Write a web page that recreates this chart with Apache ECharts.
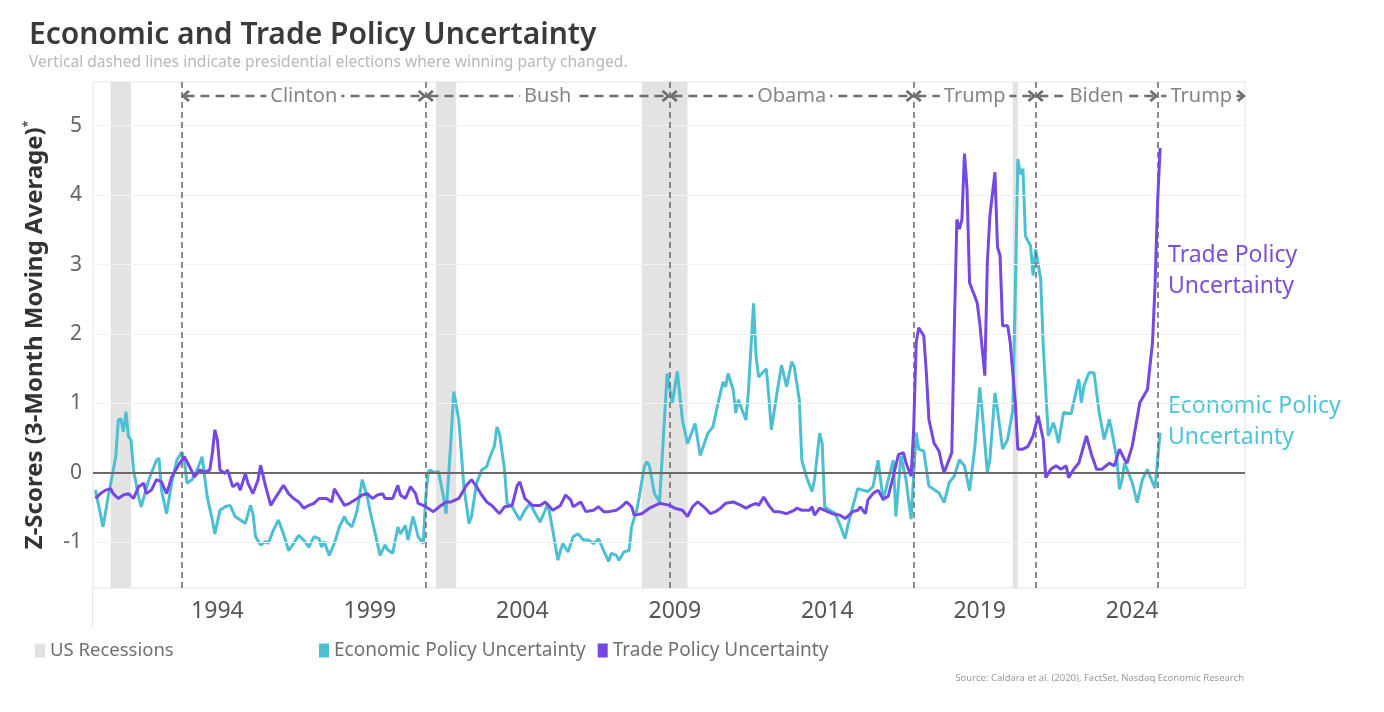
<!DOCTYPE html>
<html>
<head>
<meta charset="utf-8">
<script src="https://cdn.jsdelivr.net/npm/echarts@6.0.0/dist/echarts.min.js"></script>
<style>
html,body{margin:0;padding:0;background:#fff;}
#chart{width:1384px;height:712px;}
</style>
</head>
<body>
<div id="chart"></div>
<script>
// ---------- DATA ----------
const xTickYears = [1994, 1999, 2004, 2009, 2014, 2019, 2024];
const yTickValues = [-1, 0, 1, 2, 3, 4, 5];

const recessions = [['1990-07','1991-03'], ['2001-03','2001-11'], ['2007-12','2009-06'], ['2020-02','2020-04']];
const elections = ['1992-11', '2000-11', '2008-11', '2016-11', '2020-11', '2024-11'];
const presidents = ['Clinton', 'Bush', 'Obama', 'Trump', 'Biden', 'Trump'];

const epuData = [
['1990-01',-0.25],['1990-04',-0.78],['1990-06',-0.35],['1990-09',0.23],['1990-10',0.76],['1990-11',0.78],['1990-12',0.59],
['1991-01',0.88],['1991-02',0.52],['1991-03',0.47],['1991-04',0.04],['1991-06',-0.35],['1991-07',-0.49],['1991-10',-0.10],
['1992-01',0.18],['1992-02',0.21],['1992-03',-0.25],['1992-05',-0.59],['1992-07',-0.15],['1992-09',0.18],['1992-11',0.30],['1992-12',0.18],
['1993-01',-0.15],['1993-03',-0.10],['1993-05',0.04],['1993-07',0.23],['1993-09',-0.35],['1993-11',-0.68],['1993-12',-0.88],
['1994-02',-0.54],['1994-04',-0.49],['1994-06',-0.47],['1994-08',-0.63],['1994-10',-0.68],['1994-12',-0.73],
['1995-02',-0.47],['1995-03',-0.59],['1995-04',-0.92],['1995-06',-1.04],['1995-08',-0.99],['1995-09',-1.02],['1995-11',-0.83],
['1996-01',-0.68],['1996-03',-0.88],['1996-05',-1.12],['1996-07',-1.02],['1996-09',-0.90],['1996-11',-0.97],
['1997-01',-1.07],['1997-03',-0.92],['1997-05',-0.95],['1997-06',-1.07],['1997-07',-0.99],['1997-09',-1.19],['1997-11',-1.02],
['1998-01',-0.78],['1998-03',-0.63],['1998-04',-0.71],['1998-06',-0.78],['1998-08',-0.54],['1998-10',-0.10],['1998-12',-0.35],
['1999-01',-0.54],['1999-04',-1.02],['1999-05',-1.19],['1999-07',-1.04],['1999-08',-1.11],['1999-10',-1.16],['1999-12',-0.78],
['2000-01',-0.88],['2000-03',-0.76],['2000-04',-0.97],['2000-06',-0.63],['2000-08',-0.92],['2000-10',-1.02],['2000-11',-0.35],['2000-12',0.02],
['2001-01',0.04],['2001-02',0.00],['2001-04',0.02],['2001-06',-0.35],['2001-07',-0.59],['2001-09',0.52],['2001-10',1.17],['2001-12',0.76],
['2002-02',-0.20],['2002-04',-0.73],['2002-05',-0.63],['2002-07',-0.15],['2002-09',0.04],['2002-11',0.09],['2002-12',0.20],
['2003-01',0.30],['2003-02',0.38],['2003-03',0.66],['2003-04',0.57],['2003-06',0.04],['2003-07',-0.44],['2003-09',-0.49],['2003-12',-0.68],
['2004-02',-0.54],['2004-04',-0.44],['2004-06',-0.58],['2004-08',-0.71],['2004-10',-0.54],['2004-11',-0.44],
['2005-01',-0.83],['2005-03',-1.26],['2005-04',-1.12],['2005-05',-1.02],['2005-07',-1.14],['2005-09',-0.92],['2005-11',-0.88],
['2006-01',-0.97],['2006-03',-0.97],['2006-05',-1.02],['2006-07',-0.95],['2006-09',-1.12],['2006-11',-1.28],['2006-12',-1.16],
['2007-02',-1.19],['2007-03',-1.26],['2007-05',-1.14],['2007-07',-1.12],['2007-08',-0.78],['2007-10',-0.54],['2007-11',-0.35],
['2008-01',0.09],['2008-02',0.16],['2008-03',0.10],['2008-05',-0.30],['2008-07',-0.42],['2008-10',1.43],['2008-12',1.00],
['2009-02',1.46],['2009-04',0.76],['2009-06',0.42],['2009-09',0.71],['2009-11',0.25],
['2010-02',0.57],['2010-04',0.66],['2010-06',1.00],['2010-08',1.31],['2010-09',1.24],['2010-10',1.43],['2010-12',1.19],
['2011-01',0.86],['2011-02',1.05],['2011-05',0.76],['2011-06',1.19],['2011-08',2.44],['2011-09',1.67],['2011-10',1.38],
['2012-01',1.50],['2012-02',1.10],['2012-03',0.62],['2012-05',1.10],['2012-07',1.55],['2012-09',1.24],['2012-11',1.60],['2012-12',1.53],
['2013-02',1.05],['2013-03',0.18],['2013-05',-0.08],['2013-07',-0.27],['2013-08',-0.10],['2013-10',0.57],['2013-11',0.42],['2013-12',-0.49],
['2014-02',-0.54],['2014-04',-0.58],['2014-06',-0.75],['2014-08',-0.95],['2014-09',-0.78],['2014-11',-0.49],
['2015-01',-0.23],['2015-03',-0.25],['2015-05',-0.27],['2015-07',-0.20],['2015-09',0.18],['2015-10',-0.10],['2015-11',-0.40],
['2016-01',-0.10],['2016-03',0.18],['2016-04',-0.63],['2016-06',0.24],['2016-08',-0.10],['2016-10',-0.67],['2016-12',0.58],
['2017-01',0.34],['2017-03',0.31],['2017-05',-0.19],['2017-07',-0.24],['2017-09',-0.29],['2017-11',-0.43],
['2018-01',-0.14],['2018-03',-0.05],['2018-05',0.19],['2018-06',0.14],['2018-07',0.10],['2018-09',-0.26],['2018-11',0.34],
['2019-01',1.23],['2019-02',0.87],['2019-04',0.00],['2019-05',0.19],['2019-07',1.15],['2019-08',0.91],['2019-10',0.34],['2019-12',0.48],
['2020-02',0.90],['2020-03',2.60],['2020-04',4.52],['2020-05',4.30],['2020-06',4.38],['2020-07',3.41],['2020-09',3.27],['2020-10',2.84],['2020-11',3.22],
['2021-01',2.79],['2021-02',1.83],['2021-04',0.53],['2021-06',0.72],['2021-07',0.60],['2021-08',0.43],['2021-10',0.87],
['2022-01',0.85],['2022-04',1.35],['2022-05',1.01],['2022-06',1.25],['2022-08',1.44],['2022-10',1.44],['2022-12',0.87],
['2023-02',0.48],['2023-03',0.62],['2023-04',0.77],['2023-05',0.60],['2023-07',0.19],['2023-08',-0.24],['2023-09',-0.10],['2023-10',0.14],
['2024-01',-0.14],['2024-03',-0.43],['2024-05',-0.10],['2024-07',0.05],['2024-08',-0.05],['2024-10',-0.22],['2024-12',0.58]
];

const tpuData = [
['1990-01',-0.37],['1990-03',-0.30],['1990-05',-0.25],['1990-07',-0.23],['1990-08',-0.30],['1990-10',-0.37],['1990-12',-0.32],
['1991-02',-0.30],['1991-04',-0.37],['1991-06',-0.20],['1991-08',-0.15],['1991-09',-0.30],['1991-11',-0.25],
['1992-01',-0.10],['1992-03',-0.13],['1992-05',-0.30],['1992-07',-0.06],['1992-10',0.13],['1992-12',0.23],
['1993-02',0.09],['1993-04',-0.06],['1993-06',0.04],['1993-08',0.01],['1993-10',0.04],['1993-11',0.28],['1993-12',0.62],
['1994-01',0.47],['1994-02',0.04],['1994-04',-0.01],['1994-05',0.04],['1994-07',-0.20],['1994-09',-0.15],['1994-10',-0.25],['1994-12',-0.01],
['1995-01',-0.15],['1995-03',-0.30],['1995-05',-0.10],['1995-06',0.11],['1995-08',-0.20],['1995-10',-0.47],['1995-12',-0.35],
['1996-03',-0.18],['1996-05',-0.30],['1996-07',-0.37],['1996-09',-0.42],['1996-11',-0.51],
['1997-01',-0.47],['1997-03',-0.44],['1997-05',-0.37],['1997-08',-0.37],['1997-10',-0.42],['1997-11',-0.23],
['1998-01',-0.35],['1998-03',-0.47],['1998-05',-0.44],['1998-08',-0.37],['1998-10',-0.32],['1998-12',-0.30],
['1999-02',-0.37],['1999-04',-0.32],['1999-06',-0.30],['1999-07',-0.37],['1999-10',-0.37],['1999-12',-0.18],
['2000-01',-0.32],['2000-03',-0.37],['2000-05',-0.20],['2000-07',-0.30],['2000-08',-0.44],['2000-10',-0.47],['2000-11',-0.49],
['2001-02',-0.56],['2001-05',-0.47],['2001-07',-0.42],['2001-09',-0.42],['2001-12',-0.37],
['2002-03',-0.18],['2002-05',-0.10],['2002-07',-0.20],['2002-09',-0.32],['2002-11',-0.42],
['2003-01',-0.47],['2003-04',-0.59],['2003-06',-0.49],['2003-09',-0.47],['2003-11',-0.18],['2003-12',-0.13],
['2004-02',-0.37],['2004-05',-0.47],['2004-08',-0.47],['2004-10',-0.42],
['2005-01',-0.54],['2005-04',-0.47],['2005-06',-0.32],['2005-08',-0.39],['2005-09',-0.49],['2005-12',-0.42],
['2006-02',-0.56],['2006-05',-0.54],['2006-07',-0.49],['2006-09',-0.56],['2006-11',-0.56],
['2007-02',-0.54],['2007-04',-0.49],['2007-06',-0.42],['2007-08',-0.49],['2007-09',-0.61],['2007-12',-0.59],
['2008-03',-0.51],['2008-07',-0.44],['2008-11',-0.47],
['2009-01',-0.51],['2009-04',-0.54],['2009-06',-0.63],['2009-08',-0.49],['2009-10',-0.42],
['2010-01',-0.51],['2010-03',-0.59],['2010-05',-0.56],['2010-07',-0.51],['2010-09',-0.44],['2010-12',-0.42],
['2011-03',-0.47],['2011-05',-0.51],['2011-07',-0.47],['2011-09',-0.44],['2011-10',-0.47],['2011-12',-0.35],
['2012-02',-0.47],['2012-04',-0.56],['2012-06',-0.56],['2012-09',-0.59],['2012-12',-0.54],
['2013-01',-0.51],['2013-03',-0.54],['2013-06',-0.54],['2013-07',-0.49],['2013-08',-0.61],['2013-10',-0.51],['2013-12',-0.54],
['2014-03',-0.59],['2014-06',-0.61],['2014-08',-0.66],['2014-09',-0.63],['2014-11',-0.56],
['2015-01',-0.54],['2015-02',-0.49],['2015-04',-0.59],['2015-05',-0.39],['2015-07',-0.30],['2015-09',-0.25],['2015-11',-0.38],
['2016-01',-0.34],['2016-03',-0.05],['2016-05',0.26],['2016-07',0.29],['2016-08',0.14],['2016-10',-0.05],['2016-11',0.63],['2016-12',1.88],
['2017-01',2.09],['2017-03',1.97],['2017-04',1.44],['2017-05',0.77],['2017-07',0.43],['2017-09',0.31],['2017-10',0.14],['2017-11',0.00],['2017-12',0.10],
['2018-02',0.29],['2018-03',2.07],['2018-04',3.65],['2018-05',3.51],['2018-06',3.65],['2018-07',4.60],['2018-08',4.09],['2018-09',2.74],['2018-10',2.64],['2018-11',2.55],['2018-12',2.45],
['2019-01',2.16],['2019-03',1.40],['2019-04',3.03],['2019-05',3.70],['2019-07',4.33],['2019-08',3.25],['2019-09',3.13],['2019-10',2.12],['2019-12',2.12],
['2020-01',1.88],['2020-03',1.01],['2020-04',0.34],['2020-06',0.34],['2020-08',0.38],['2020-10',0.53],['2020-12',0.82],
['2021-02',0.48],['2021-03',-0.07],['2021-05',0.05],['2021-07',0.10],['2021-09',0.05],['2021-11',0.10],['2021-12',-0.07],
['2022-02',0.05],['2022-04',0.14],['2022-07',0.53],['2022-09',0.26],['2022-11',0.05],
['2023-01',0.05],['2023-04',0.14],['2023-06',0.10],['2023-08',0.34],['2023-10',0.19],['2023-11',0.14],
['2024-01',0.38],['2024-04',1.01],['2024-07',1.20],['2024-09',1.88],['2024-10',2.70],['2024-11',3.90],['2024-12',4.68]
];

// ---------- helpers ----------
function toYear(s){ const p = s.split('-'); return Number(p[0]) + (Number(p[1]) - 1) / 12; }
function toPoints(arr){ return arr.map(d => [toYear(d[0]), d[1]]); }

const X_MIN = 1989.92, X_MAX = 2027.7;
const Y_MIN = -1.66, Y_MAX = 5.63;
const HEADER_Y = 5.43;

const CYAN = '#4cbfd3';
const PURPLE = '#7547e3';
const FONT = '"Noto Sans", "Open Sans", sans-serif';

const chevronUp = 'path://M0,10 L10,0 L20,10 L17,13 L10,6 L3,13 Z';

// header arrows between election lines
const electionYears = elections.map(toYear);
const headerData = presidents.map((name, i) => {
  const x1 = electionYears[i];
  const x2 = i + 1 < electionYears.length ? electionYears[i + 1] : X_MAX;
  return [
    { coord: [x1 + 0.12, HEADER_Y], name: name },
    { coord: [x2 - 0.12, HEADER_Y] }
  ];
});

const option = {
  animation: false,
  backgroundColor: '#ffffff',
  textStyle: { fontFamily: FONT },
  title: {
    text: 'Economic and Trade Policy Uncertainty',
    subtext: 'Vertical dashed lines indicate presidential elections where winning party changed.',
    left: 24, top: 15, itemGap: 5,
    textStyle: { fontFamily: FONT, fontSize: 30, fontWeight: 600, color: '#3a3a3a' },
    subtextStyle: { fontFamily: FONT, fontSize: 15.6, color: '#b8b8b8' }
  },
  legend: [
    {
      data: ['US Recessions'], left: 30, top: 636, icon: 'rect', itemWidth: 10, itemHeight: 14,
      textStyle: { fontFamily: FONT, fontSize: 18.5, color: '#707070' }, selectedMode: false
    },
    {
      data: ['Economic Policy Uncertainty', 'Trade Policy Uncertainty'], left: 314, top: 636,
      icon: 'rect', itemWidth: 10, itemHeight: 14, itemGap: 12,
      textStyle: { fontFamily: FONT, fontSize: 19, color: '#707070' }, selectedMode: false
    }
  ],
  grid: { left: 93, right: 139, top: 82, bottom: 124, show: true, borderColor: '#e2e2e2', borderWidth: 1, backgroundColor: 'transparent' },
  xAxis: {
    type: 'value', min: X_MIN, max: X_MAX,
    axisLine: { show: false }, axisTick: { show: false }, splitLine: { show: false },
    axisLabel: { customValues: xTickYears, formatter: v => String(Math.round(v)), fontSize: 23, color: '#555', margin: 12, fontFamily: FONT }
  },
  yAxis: {
    type: 'value', min: Y_MIN, max: Y_MAX,
    name: '{a|Z-Scores (3-Month Moving Average)}{b|*}', nameLocation: 'middle', nameRotate: 90, nameGap: 46,
    nameTextStyle: {
      fontFamily: FONT, fontSize: 24, fontWeight: 'bold', color: '#333',
      rich: {
        a: { fontFamily: FONT, fontSize: 24, fontWeight: 'bold', color: '#333' },
        b: { fontFamily: FONT, fontSize: 12, fontWeight: 'bold', color: '#555', verticalAlign: 'top', padding: [0, 0, 12, 0] }
      }
    },
    axisLine: { show: false }, axisTick: { show: false }, splitLine: { show: false },
    axisLabel: { customValues: yTickValues, formatter: v => String(Math.round(v)), fontSize: 21, color: '#666', margin: 11, fontFamily: FONT }
  },
  series: [
    {
      name: 'gridlines', type: 'line', data: [], z: 1, silent: true,
      markLine: {
        silent: true, symbol: 'none', label: { show: false },
        lineStyle: { color: '#f1f1f1', width: 1, type: 'solid' },
        data: yTickValues.filter(v => v !== 0).map(v => ({ yAxis: v })).concat([
          { yAxis: 0, lineStyle: { color: '#6a6a6a', width: 2, type: 'solid' } }
        ])
      }
    },
    {
      name: 'US Recessions', type: 'line', data: [], z: 2, silent: true,
      itemStyle: { color: '#e2e2e2' }, lineStyle: { color: '#e2e2e2' },
      markArea: {
        silent: true, itemStyle: { color: '#e3e3e3' },
        data: recessions.map(r => [{ xAxis: toYear(r[0]) }, { xAxis: toYear(r[1]) }])
      }
    },
    {
      name: 'elections', type: 'line', data: [], z: 3, silent: true,
      markLine: {
        silent: true, symbol: 'none', label: { show: false },
        lineStyle: { color: '#6e6e6e', width: 1.6, type: [6, 4] },
        data: electionYears.map(x => ({ xAxis: x }))
      }
    },
    {
      name: 'presidents', type: 'line', data: [], z: 3, silent: true,
      markLine: {
        silent: true,
        symbol: [chevronUp, chevronUp], symbolSize: [12, 9],
        lineStyle: { color: '#6e6e6e', width: 2.4, type: [9, 6] },
        label: {
          show: true, position: 'middle', distance: 0, verticalAlign: 'middle', formatter: p => p.name,
          fontFamily: FONT, fontSize: 20, color: '#858585', backgroundColor: '#ffffff', padding: [0, 4]
        },
        data: headerData.map((pair, i) => i === presidents.length - 1
          ? [Object.assign({ symbol: 'none' }, pair[0]), pair[1]]
          : pair)
      }
    },
    {
      name: 'Economic Policy Uncertainty', type: 'line', z: 4,
      data: toPoints(epuData), showSymbol: false, smooth: false,
      itemStyle: { color: CYAN }, lineStyle: { color: CYAN, width: 3 }
    },
    {
      name: 'Trade Policy Uncertainty', type: 'line', z: 5,
      data: toPoints(tpuData), showSymbol: false, smooth: false,
      itemStyle: { color: PURPLE }, lineStyle: { color: PURPLE, width: 3 }
    }
  ],
  graphic: [
    { type: 'text', left: 1168, top: 240, style: { text: 'Trade Policy\nUncertainty', fill: '#7c4fd6', font: '23px ' + FONT, lineHeight: 31 } },
    { type: 'text', left: 1168, top: 391, style: { text: 'Economic Policy\nUncertainty', fill: '#4fc4d8', font: '23px ' + FONT, lineHeight: 31 } },
    { type: 'text', right: 140, top: 673, style: { text: 'Source: Caldara et al. (2020), FactSet, Nasdaq Economic Research', fill: '#9a9a9a', font: '9.5px ' + FONT } },
    { type: 'line', shape: { x1: 92.5, y1: 588, x2: 92.5, y2: 628 }, style: { stroke: '#e6e6e6', lineWidth: 1 } }
  ]
};

const chart = echarts.init(document.getElementById('chart'), null, { renderer: 'canvas' });
chart.setOption(option);
</script>
</body>
</html>
